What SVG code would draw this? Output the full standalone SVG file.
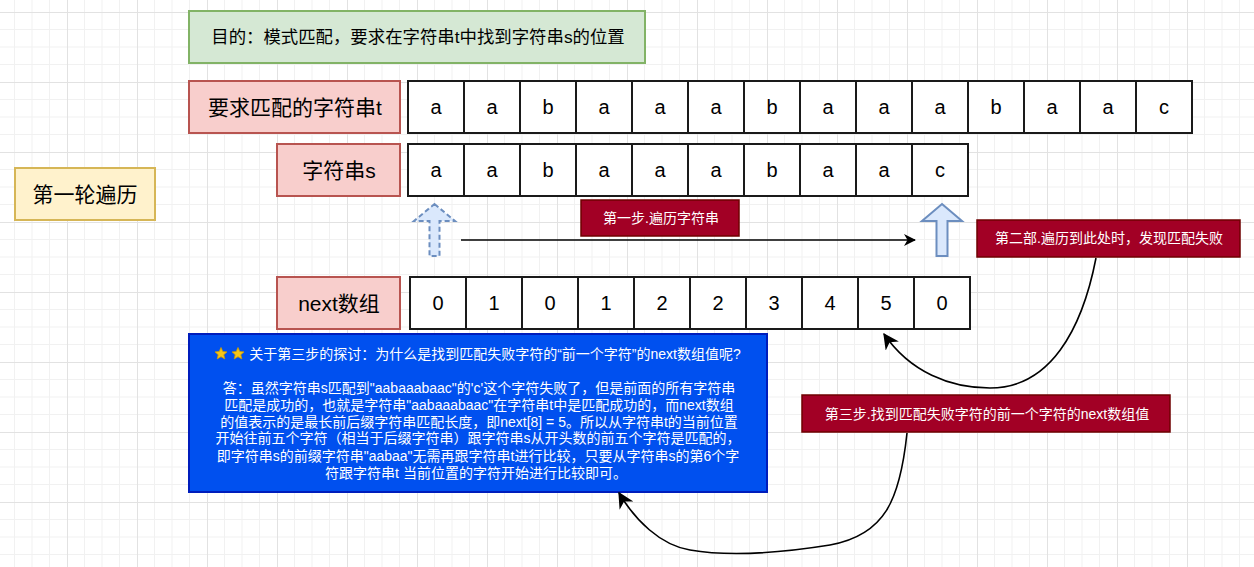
<svg xmlns="http://www.w3.org/2000/svg" width="1254" height="567" viewBox="0 0 1254 567">
<defs>
<pattern id="grid" width="70" height="70" patternUnits="userSpaceOnUse" x="67" y="12">
<path d="M17.5 0V70M35 0V70M52.5 0V70M0 17.5H70M0 35H70M0 52.5H70" stroke="#f1f1f1" stroke-width="1" fill="none"/>
<path d="M0.5 0V70M0 0.5H70" stroke="#e2e2e2" stroke-width="1" fill="none"/>
</pattern>
<marker id="arr" viewBox="0 0 12 12" refX="11" refY="6" markerWidth="12" markerHeight="12" markerUnits="userSpaceOnUse" orient="auto">
<path d="M0,0 L12,6 L0,12 L3.5,6 Z" fill="#000"/>
</marker>
<marker id="arr2" viewBox="0 0 12 12" refX="11" refY="6" markerWidth="16" markerHeight="16" markerUnits="userSpaceOnUse" orient="auto">
<path d="M0,0 L12,6 L0,12 L3.5,6 Z" fill="#000"/>
</marker>
</defs>
<style>
text{font-family:"Liberation Sans","Noto Sans CJK SC",sans-serif;}
.green{fill:#d5e8d4;stroke:#82b366;stroke-width:2;}
.pink{fill:#f8cecc;stroke:#b85450;stroke-width:2;}
.yellow{fill:#fff2cc;stroke:#d6b656;stroke-width:2;}
.dark{fill:#a20025;stroke:#6f0000;stroke-width:1.5;}
.blue{fill:#0050ef;stroke:#001dbc;stroke-width:2;}
.cell{fill:#fff;stroke:#1a1a1a;stroke-width:2;}
.ct{font-size:20px;fill:#000;text-anchor:middle;dominant-baseline:central;}
.lbl{font-size:21px;fill:#000;text-anchor:middle;dominant-baseline:central;}
.wt{font-size:14px;fill:#fff;text-anchor:middle;dominant-baseline:central;}
.bt{font-size:14px;fill:#fff;text-anchor:middle;dominant-baseline:central;}
.uparrow{fill:#dae8fc;stroke:#6c8ebf;stroke-width:2;}
.conn{fill:none;stroke:#000;stroke-width:1.6;}
</style>
<rect width="1254" height="567" fill="#fff"/>
<rect width="1254" height="567" fill="url(#grid)"/>

<g id="title">
<rect class="green" x="189" y="11" width="456" height="52"/>
<text x="418" y="37" style="font-size:17.4px;fill:#000;text-anchor:middle;dominant-baseline:central;">目的：模式匹配，要求在字符串t中找到字符串s的位置</text>
</g>

<g id="round">
<rect class="yellow" x="15" y="168" width="140" height="52"/>
<text class="lbl" x="85" y="194">第一轮遍历</text>
</g>

<g id="label-t">
<rect class="pink" x="189" y="81" width="211" height="52"/>
<text class="lbl" x="295" y="107">要求匹配的字符串t</text>
</g>

<g id="array-t">
<rect class="cell" x="408" y="81" width="56" height="52"/><text class="ct" x="436" y="107">a</text>
<rect class="cell" x="464" y="81" width="56" height="52"/><text class="ct" x="492" y="107">a</text>
<rect class="cell" x="520" y="81" width="56" height="52"/><text class="ct" x="548" y="107">b</text>
<rect class="cell" x="576" y="81" width="56" height="52"/><text class="ct" x="604" y="107">a</text>
<rect class="cell" x="632" y="81" width="56" height="52"/><text class="ct" x="660" y="107">a</text>
<rect class="cell" x="688" y="81" width="56" height="52"/><text class="ct" x="716" y="107">a</text>
<rect class="cell" x="744" y="81" width="56" height="52"/><text class="ct" x="772" y="107">b</text>
<rect class="cell" x="800" y="81" width="56" height="52"/><text class="ct" x="828" y="107">a</text>
<rect class="cell" x="856" y="81" width="56" height="52"/><text class="ct" x="884" y="107">a</text>
<rect class="cell" x="912" y="81" width="56" height="52"/><text class="ct" x="940" y="107">a</text>
<rect class="cell" x="968" y="81" width="56" height="52"/><text class="ct" x="996" y="107">b</text>
<rect class="cell" x="1024" y="81" width="56" height="52"/><text class="ct" x="1052" y="107">a</text>
<rect class="cell" x="1080" y="81" width="56" height="52"/><text class="ct" x="1108" y="107">a</text>
<rect class="cell" x="1136" y="81" width="56" height="52"/><text class="ct" x="1164" y="107">c</text>
</g>

<g id="label-s">
<rect class="pink" x="277" y="144" width="123" height="52"/>
<text class="lbl" x="339" y="170">字符串s</text>
</g>

<g id="array-s">
<rect class="cell" x="408" y="144" width="56" height="52"/><text class="ct" x="436" y="170">a</text>
<rect class="cell" x="464" y="144" width="56" height="52"/><text class="ct" x="492" y="170">a</text>
<rect class="cell" x="520" y="144" width="56" height="52"/><text class="ct" x="548" y="170">b</text>
<rect class="cell" x="576" y="144" width="56" height="52"/><text class="ct" x="604" y="170">a</text>
<rect class="cell" x="632" y="144" width="56" height="52"/><text class="ct" x="660" y="170">a</text>
<rect class="cell" x="688" y="144" width="56" height="52"/><text class="ct" x="716" y="170">a</text>
<rect class="cell" x="744" y="144" width="56" height="52"/><text class="ct" x="772" y="170">b</text>
<rect class="cell" x="800" y="144" width="56" height="52"/><text class="ct" x="828" y="170">a</text>
<rect class="cell" x="856" y="144" width="56" height="52"/><text class="ct" x="884" y="170">a</text>
<rect class="cell" x="912" y="144" width="56" height="52"/><text class="ct" x="940" y="170">c</text>
</g>

<g id="up-arrow-start">
<path class="uparrow" stroke-dasharray="5 3" d="M434.5 204 L455 221 L439.5 221 L439.5 256 L429.5 256 L429.5 221 L414 221 Z"/>
</g>
<g id="up-arrow-fail">
<path class="uparrow" d="M942 204 L962 221 L947.5 221 L947.5 256 L936.5 256 L936.5 221 L922 221 Z"/>
</g>

<g id="step1">
<rect class="dark" x="581" y="200" width="158" height="36"/>
<text class="wt" x="661" y="218">第一步.遍历字符串</text>
</g>

<g id="step2">
<rect class="dark" x="977" y="220" width="263" height="37"/>
<text class="wt" x="1109" y="238">第二部.遍历到此处时，发现匹配失败</text>
</g>

<g id="label-next">
<rect class="pink" x="277" y="277" width="123" height="52"/>
<text class="lbl" x="339" y="303">next数组</text>
</g>

<g id="array-next">
<rect class="cell" x="410" y="277" width="56" height="52"/><text class="ct" x="438" y="303">0</text>
<rect class="cell" x="466" y="277" width="56" height="52"/><text class="ct" x="494" y="303">1</text>
<rect class="cell" x="522" y="277" width="56" height="52"/><text class="ct" x="550" y="303">0</text>
<rect class="cell" x="578" y="277" width="56" height="52"/><text class="ct" x="606" y="303">1</text>
<rect class="cell" x="634" y="277" width="56" height="52"/><text class="ct" x="662" y="303">2</text>
<rect class="cell" x="690" y="277" width="56" height="52"/><text class="ct" x="718" y="303">2</text>
<rect class="cell" x="746" y="277" width="56" height="52"/><text class="ct" x="774" y="303">3</text>
<rect class="cell" x="802" y="277" width="56" height="52"/><text class="ct" x="830" y="303">4</text>
<rect class="cell" x="858" y="277" width="56" height="52"/><text class="ct" x="886" y="303">5</text>
<rect class="cell" x="914" y="277" width="56" height="52"/><text class="ct" x="942" y="303">0</text>
</g>

<g id="note">
<rect class="blue" x="189" y="334" width="578" height="158"/>
<polygon points="221,347.5 222.8,351.5 227,351.9 223.8,354.7 224.8,358.9 221,356.7 217.2,358.9 218.2,354.7 215,351.9 219.2,351.5" fill="#f5c518" stroke="#c99a06" stroke-width="0.8"/>
<polygon points="238,347.5 239.8,351.5 244,351.9 240.8,354.7 241.8,358.9 238,356.7 234.2,358.9 235.2,354.7 232,351.9 236.2,351.5" fill="#f5c518" stroke="#c99a06" stroke-width="0.8"/>
<text class="bt" x="495" y="354">关于第三步的探讨：为什么是找到匹配失败字符的“前一个字符”的next数组值呢?</text>
<text class="bt" x="479" y="388">答：虽然字符串s匹配到"aabaaabaac"的'c'这个字符失败了，但是前面的所有字符串</text>
<text class="bt" x="479" y="405">匹配是成功的，也就是字符串"aabaaabaac"在字符串t中是匹配成功的，而next数组</text>
<text class="bt" x="479" y="422">的值表示的是最长前后缀字符串匹配长度，即next[8] = 5。所以从字符串t的当前位置</text>
<text class="bt" x="478" y="438">开始往前五个字符（相当于后缀字符串）跟字符串s从开头数的前五个字符是匹配的，</text>
<text class="bt" x="478" y="456">即字符串s的前缀字符串"aabaa"无需再跟字符串t进行比较，只要从字符串s的第6个字</text>
<text class="bt" x="476" y="473">符跟字符串t 当前位置的字符开始进行比较即可。</text>
</g>

<g id="step3">
<rect class="dark" x="802" y="395" width="368" height="37"/>
<text class="wt" x="987" y="413.5">第三步.找到匹配失败字符的前一个字符的next数组值</text>
</g>

<g id="connectors">
<path class="conn" d="M461 240 L915 240" marker-end="url(#arr)"/>
<path class="conn" d="M1096 258 C1082 330 1050 388 990 388 C950 388 910 372 884 334" marker-end="url(#arr2)"/>
<path class="conn" d="M907 433 C900 500 885 535 830 545 C780 553 730 557 690 550 C660 545 635 520 619 493" marker-end="url(#arr2)"/>
</g>
</svg>
